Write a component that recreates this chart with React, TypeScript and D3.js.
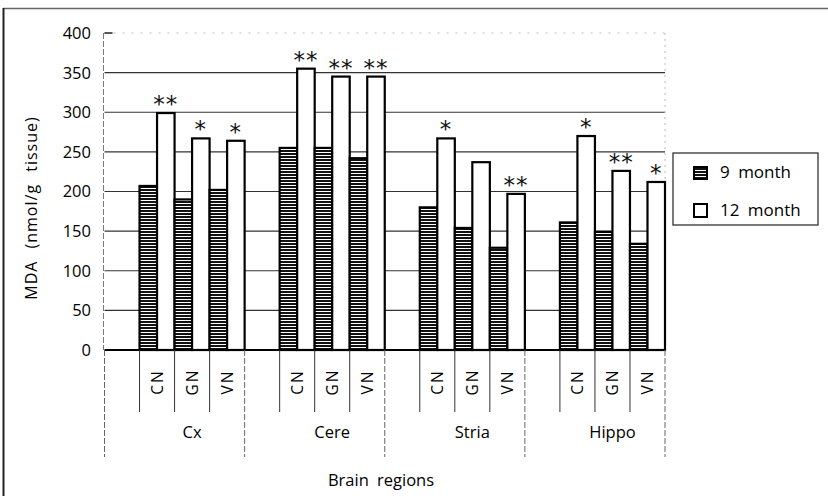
import React from "react";
import * as d3 from "d3";

const groups = ["Cx", "Cere", "Stria", "Hippo"];
const subs = ["", "CN", "GN", "VN"];
const month9 = [207, 190, 202, 255, 255, 242, 180, 154, 129, 161, 149, 134];
const month12 = [299, 267, 264, 355, 345, 345, 267, 237, 197, 270, 226, 212];
const sig12 = ["**", "*", "*", "**", "**", "**", "*", "", "**", "*", "**", "*"];
const yTicks = [0, 50, 100, 150, 200, 250, 300, 350, 400];
const seriesNames = ["9 month", "12 month"];

const W = 828;
const H = 496;
const FONT = "'Open Sans', 'DejaVu Sans', sans-serif";

export default function App() {
  const slotKeys: string[] = [];
  groups.forEach((g) => subs.forEach((s) => slotKeys.push(`${g}|${s}`)));
  const x = d3.scaleBand<string>().domain(slotKeys).range([104.5, 665]).padding(0);
  const bw = x.bandwidth();
  const inner = d3.scaleBand<string>().domain(["m9", "m12"]).range([0, bw]).padding(0);
  const y = d3.scaleLinear().domain([0, 400]).range([350, 33]);

  const bars: { key: string; x: number; v: number; s: string; sig: string }[] = [];
  let idx = 0;
  groups.forEach((g) => {
    subs.slice(1).forEach((s) => {
      const k = `${g}|${s}`;
      bars.push({ key: k + "m9", x: (x(k) as number) + (inner("m9") as number), v: month9[idx], s: "m9", sig: "" });
      bars.push({ key: k + "m12", x: (x(k) as number) + (inner("m12") as number), v: month12[idx], s: "m12", sig: sig12[idx] });
      idx++;
    });
  });

  const x0 = x.range()[0];
  const x1 = x.range()[1];

  return (
    <svg width={W} height={H} style={{ position: "fixed", left: 0, top: 0, background: "#fff" }} fontFamily={FONT} fontWeight={500}>
      <defs>
        <pattern id="stripes" patternUnits="userSpaceOnUse" width={4} height={3}>
          <rect x={0} y={0} width={4} height={3} fill="#fff" />
          <rect x={0} y={0} width={4} height={2} fill="#111" />
        </pattern>
      </defs>
      <rect x={0} y={0} width={W} height={H} fill="#fff" />
      {/* outer frame */}
      <line x1={3} x2={W} y1={8.5} y2={8.5} stroke="#666" strokeWidth={1.5} />
      <line x1={3.5} x2={3.5} y1={8} y2={H} stroke="#222" strokeWidth={2} />

      {/* grid lines */}
      {yTicks.filter((t) => t > 0 && t < 400).map((t) => (
        <line key={t} x1={x0} x2={x1} y1={y(t)} y2={y(t)} stroke="#333" strokeWidth={1.2} />
      ))}
      <line x1={x0} x2={x1} y1={y(400)} y2={y(400)} stroke="#bbb" strokeWidth={1} strokeDasharray="2 7" />
      <line x1={x0} x2={x0 + 8} y1={y(400)} y2={y(400)} stroke="#222" strokeWidth={1.5} />
      <line x1={x0 - 1} x2={x0 - 1} y1={y(400)} y2={y(0)} stroke="#777" strokeWidth={1} strokeDasharray="6 2" />
      <line x1={x1} x2={x1} y1={y(400)} y2={y(0)} stroke="#bbb" strokeWidth={1} strokeDasharray="2 4" />

      {/* y tick labels */}
      {yTicks.map((t) => (
        <text key={t} x={91} y={y(t)} dy="0.36em" textAnchor="end" fontSize={16.5} fill="#000">
          {t}
        </text>
      ))}
      <text
        transform={`translate(37,208) rotate(-90)`}
        textAnchor="middle"
        fontSize={16}
        letterSpacing={1}
        wordSpacing={7}
        fill="#000"
      >
        MDA (nmol/g tissue)
      </text>

      {/* bars */}
      {bars.map((b) => (
        <rect
          key={b.key}
          x={b.x}
          y={y(b.v)}
          width={inner.bandwidth()}
          height={y(0) - y(b.v)}
          fill={b.s === "m9" ? "url(#stripes)" : "#fff"}
          stroke="#000"
          strokeWidth={2.2}
        />
      ))}
      {bars.filter((b) => b.sig).map((b) => (
        <text
          key={b.key + "sig"}
          x={b.x + inner.bandwidth() / 2}
          y={y(b.v) - 1}
          textAnchor="middle"
          fontSize={23}
          letterSpacing={1}
          fill="#111"
          fontFamily="'DejaVu Sans', sans-serif"
        >
          {b.sig}
        </text>
      ))}

      {/* baseline */}
      <line x1={x0} x2={x1} y1={y(0)} y2={y(0)} stroke="#000" strokeWidth={2} />

      {/* category separators */}
      {slotKeys.map((k, i) => {
        const xs = x(k) as number;
        const isGroupStart = i % 4 === 0;
        return (
          <line
            key={"sep" + k}
            x1={xs}
            x2={xs}
            y1={y(0)}
            y2={isGroupStart ? 457 : 412}
            stroke={isGroupStart ? "#666" : "#333"}
            strokeWidth={1}
            strokeDasharray={isGroupStart ? "6 2" : undefined}
          />
        );
      })}
      <line x1={x1} x2={x1} y1={y(0)} y2={457} stroke="#666" strokeWidth={1} strokeDasharray="6 2" />

      {/* sub labels */}
      {slotKeys.filter((k) => k.split("|")[1]).map((k) => (
        <text
          key={"lab" + k}
          transform={`translate(${(x(k) as number) + bw / 2},382) rotate(-90)`}
          textAnchor="middle"
          dy="0.36em"
          fontSize={15.5}
          letterSpacing={2}
          fill="#000"
        >
          {k.split("|")[1]}
        </text>
      ))}

      {/* group labels */}
      {groups.map((g) => {
        const start = x(`${g}|CN`) as number;
        const end = (x(`${g}|VN`) as number) + bw;
        return (
          <text key={"g" + g} x={(start + end) / 2} y={438} textAnchor="middle" fontSize={16.5} fill="#000">
            {g}
          </text>
        );
      })}
      <text x={381} y={486} textAnchor="middle" fontSize={16.5} wordSpacing={4} fill="#000">
        Brain regions
      </text>

      {/* legend */}
      <rect x={673} y={153} width={145} height={72} fill="#fff" stroke="#222" strokeWidth={1.2} />
      <rect x={694} y={167} width={13} height={12} fill="url(#stripes)" stroke="#000" strokeWidth={2} />
      <rect x={694} y={204} width={13} height={13} fill="#fff" stroke="#000" strokeWidth={2} />
      <text x={720} y={178} fontSize={17} wordSpacing={4} fill="#000">
        {seriesNames[0]}
      </text>
      <text x={720} y={216} fontSize={17} wordSpacing={4} fill="#000">
        {seriesNames[1]}
      </text>
    </svg>
  );
}
